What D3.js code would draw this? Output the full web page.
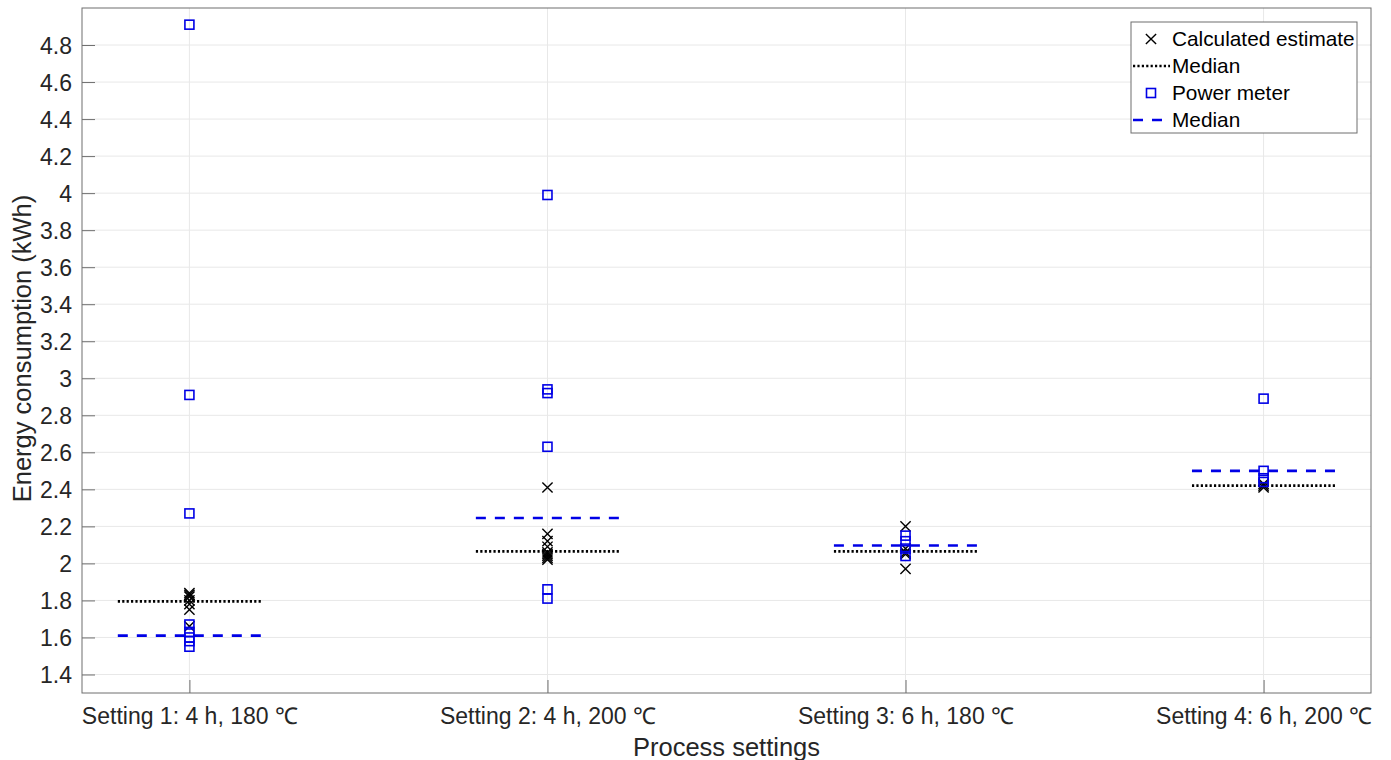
<!DOCTYPE html>
<html>
<head>
<meta charset="utf-8">
<script src="https://cdn.jsdelivr.net/npm/d3@7"></script>
<style>
  body { margin: 0; background: #fff; }
  svg { display: block; font-family: "Liberation Sans", Arial, Helvetica, sans-serif; }
</style>
</head>
<body>
<svg id="chart" width="1391" height="760"></svg>
<script>
// Process settings shown along the x axis
const categories = ["Setting 1: 4 h, 180 \u2103", "Setting 2: 4 h, 200 \u2103", "Setting 3: 6 h, 180 \u2103", "Setting 4: 6 h, 200 \u2103"];

// Calculated energy estimates per setting (kWh)
const calculated = [
  [1.84, 1.83, 1.82, 1.80, 1.78, 1.75, 1.66],
  [2.41, 2.16, 2.12, 2.09, 2.06, 2.05, 2.04, 2.03, 2.02],
  [2.20, 2.08, 2.06, 2.05, 1.97],
  [2.43, 2.42, 2.41]
];
// Power meter readings per setting (kWh)
const powerMeter = [
  [4.91, 2.91, 2.27, 1.67, 1.63, 1.60, 1.58, 1.55],
  [3.99, 2.94, 2.92, 2.63, 1.86, 1.81],
  [2.15, 2.12, 2.08, 2.04],
  [2.89, 2.50, 2.46, 2.44]
];
// Medians per setting
const calculatedMedian = [1.795, 2.065, 2.065, 2.42];
const powerMeterMedian = [1.61, 2.245, 2.097, 2.50];

const yTicks = [1.4, 1.6, 1.8, 2, 2.2, 2.4, 2.6, 2.8, 3, 3.2, 3.4, 3.6, 3.8, 4, 4.2, 4.4, 4.6, 4.8];

const svg = d3.select("#chart");
const m = { left: 82, right: 1371, top: 8, bottom: 693 };
const textColor = "#262626";
const axisColor = "#6e6e6e";
const blue = "#0000e6";

const x = d3.scaleLinear().domain([0.7, 4.3]).range([m.left, m.right]);
const y = d3.scaleLinear().domain([1.3, 5.0]).range([m.bottom, m.top]);

// Grid lines
const grid = svg.append("g");
grid.selectAll("line.h").data(yTicks).join("line")
  .attr("x1", m.left).attr("x2", m.right)
  .attr("y1", d => y(d)).attr("y2", d => y(d))
  .attr("stroke", "#e8e8e8").attr("stroke-width", 1);
grid.selectAll("line.v").data(categories).join("line")
  .attr("x1", (d, i) => x(i + 1)).attr("x2", (d, i) => x(i + 1))
  .attr("y1", m.top).attr("y2", m.bottom)
  .attr("stroke", "#e8e8e8").attr("stroke-width", 1);

// Axes with inward ticks
const yAxis = svg.append("g").attr("transform", `translate(${m.left},0)`)
  .call(d3.axisLeft(y).tickValues(yTicks).tickFormat(d => String(d)).tickSizeInner(-13).tickSizeOuter(0).tickPadding(10));
const xAxis = svg.append("g").attr("transform", `translate(0,${m.bottom})`)
  .call(d3.axisBottom(x).tickValues([1, 2, 3, 4]).tickFormat((d) => categories[d - 1]).tickSizeInner(-13).tickSizeOuter(0).tickPadding(15));
[yAxis, xAxis].forEach(a => {
  a.attr("font-size", null).attr("font-family", null);
  a.select(".domain").remove();
  a.selectAll("line").attr("stroke", axisColor);
  a.selectAll("text").attr("fill", textColor).style("font-size", "23px");
});
yAxis.selectAll("text").attr("dy", "0.35em");

// Axes box
svg.append("rect").attr("x", m.left).attr("y", m.top)
  .attr("width", m.right - m.left).attr("height", m.bottom - m.top)
  .attr("fill", "none").attr("stroke", axisColor).attr("stroke-width", 1);

// Median lines
const half = 0.2;
svg.append("g").selectAll("line").data(calculatedMedian).join("line")
  .attr("x1", (d, i) => x(i + 1 - half)).attr("x2", (d, i) => x(i + 1 + half))
  .attr("y1", d => y(d)).attr("y2", d => y(d))
  .attr("stroke", "#000").attr("stroke-width", 2.6).attr("stroke-dasharray", "2.2,2.2");
svg.append("g").selectAll("line").data(powerMeterMedian).join("line")
  .attr("x1", (d, i) => x(i + 1 - half)).attr("x2", (d, i) => x(i + 1 + half))
  .attr("y1", d => y(d)).attr("y2", d => y(d))
  .attr("stroke", blue).attr("stroke-width", 2.6).attr("stroke-dasharray", "10,9");

// Markers
const pts = (arr) => arr.flatMap((vals, i) => vals.map(v => ({ i: i + 1, v })));
const cross = d3.symbol().type(d3.symbolTimes).size(70);
svg.append("g").selectAll("path").data(pts(calculated)).join("path")
  .attr("d", cross)
  .attr("transform", d => `translate(${x(d.i)},${y(d.v)})`)
  .attr("fill", "none").attr("stroke", "#000").attr("stroke-width", 1.4);
const sq = 9;
svg.append("g").selectAll("rect").data(pts(powerMeter)).join("rect")
  .attr("x", d => x(d.i) - sq / 2).attr("y", d => y(d.v) - sq / 2)
  .attr("width", sq).attr("height", sq)
  .attr("fill", "none").attr("stroke", blue).attr("stroke-width", 1.6);

// Axis titles
svg.append("text").attr("x", (m.left + m.right) / 2).attr("y", 756)
  .attr("text-anchor", "middle").style("font-size", "25.5px").attr("fill", textColor)
  .text("Process settings");
svg.append("text").attr("transform", `translate(31,${(m.top + m.bottom) / 2 - 2}) rotate(-90)`)
  .attr("text-anchor", "middle").style("font-size", "25.5px").attr("fill", textColor)
  .text("Energy consumption (kWh)");

// Legend
const lg = svg.append("g");
lg.append("rect").attr("x", 1131).attr("y", 22).attr("width", 226).attr("height", 111)
  .attr("fill", "#fff").attr("stroke", axisColor).attr("stroke-width", 1);
const rows = [
  { label: "Calculated estimate", kind: "cross" },
  { label: "Median", kind: "dot" },
  { label: "Power meter", kind: "square" },
  { label: "Median", kind: "dash" }
];
rows.forEach((r, k) => {
  const cy = 39 + k * 27;
  const g = lg.append("g");
  if (r.kind === "cross") {
    g.append("path").attr("d", cross).attr("transform", `translate(1151,${cy})`)
      .attr("fill", "none").attr("stroke", "#000").attr("stroke-width", 1.4);
  } else if (r.kind === "square") {
    g.append("rect").attr("x", 1151 - sq / 2).attr("y", cy - sq / 2).attr("width", sq).attr("height", sq)
      .attr("fill", "none").attr("stroke", blue).attr("stroke-width", 1.6);
  } else if (r.kind === "dot") {
    g.append("line").attr("x1", 1133).attr("x2", 1170).attr("y1", cy).attr("y2", cy)
      .attr("stroke", "#000").attr("stroke-width", 2.4).attr("stroke-dasharray", "2.2,2.2");
  } else {
    g.append("line").attr("x1", 1133).attr("x2", 1170).attr("y1", cy).attr("y2", cy)
      .attr("stroke", blue).attr("stroke-width", 2.6).attr("stroke-dasharray", "10,9");
  }
  g.append("text").attr("x", 1172).attr("y", cy).attr("dy", "0.35em")
    .style("font-size", "20.8px").attr("fill", "#000").text(r.label);
});
</script>
</body>
</html>
